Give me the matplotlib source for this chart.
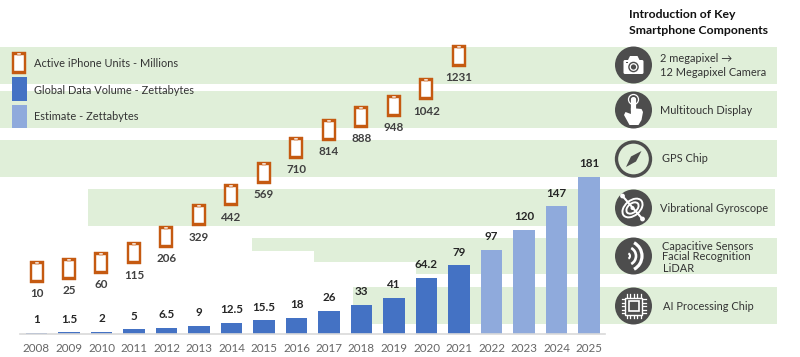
import numpy as np
import matplotlib
matplotlib.use('Agg')
import matplotlib.pyplot as plt
from matplotlib.path import Path
from matplotlib.patches import Rectangle, Circle, FancyBboxPatch, Polygon, Arc, Ellipse

plt.rcParams['font.family'] = ['Lato', 'DejaVu Sans']

### --- data --- ###
years = [2008, 2009, 2010, 2011, 2012, 2013, 2014, 2015, 2016, 2017, 2018, 2019, 2020, 2021, 2022, 2023, 2024, 2025]
data_labels = ['1', '1.5', '2', '5', '6.5', '9', '12.5', '15.5', '18', '26', '33', '41', '64.2', '79', '97', '120', '147', '181']
data_volume = [float(v) for v in data_labels]
is_estimate = [y >= 2022 for y in years]
iphone_units = [10, 25, 60, 115, 206, 329, 442, 569, 710, 814, 888, 948, 1042, 1231]

BLUE = '#4472C4'
LIGHT = '#8FAADC'
ORANGE = '#C55A11'
GREEN = '#E0EFD9'
DARK = '#4D4D4D'
TXT = '#333333'

W, H = 800, 357
fig = plt.figure(figsize=(W / 100, H / 100), dpi=100)

# overlay in pixel coords for the bands, legend and icons
bg = fig.add_axes([0, 0, 1, 1], zorder=0)
bg.set_xlim(0, W)
bg.set_ylim(H, 0)
bg.axis('off')

# (x0, y0, x1, y1)
bands = [(0, 47, 777, 83.5), (0, 91, 777, 128), (0, 140, 777, 177), (88, 189, 775, 226),
         (252, 238, 777, 250.5), (314, 250.5, 777, 262), (416, 262, 777, 274), (353, 287, 777, 324)]
for x0, y0, x1, y1 in bands:
    bg.add_patch(Rectangle((x0, y0), x1 - x0, y1 - y0, fc=GREEN, ec='none'))

### --- bars --- ###
left, right, base = 20.25, 605.25, 333.5
ax = fig.add_axes([left / W, (H - base) / H, (right - left) / W, base / H], zorder=2)
ax.patch.set_visible(False)
x = np.arange(len(years))
colors = [LIGHT if e else BLUE for e in is_estimate]
ax.bar(x, data_volume, width=0.66, color=colors)
ax.set_xlim(-0.5, 17.5)
ax.set_ylim(0, 385.5)
ax.set_xticks(x)
ax.set_xticklabels(years, fontsize=8.4, color='#666666')
ax.tick_params(axis='x', length=0, pad=7.2)
ax.set_yticks([])
for s in ['top', 'left', 'right']:
    ax.spines[s].set_visible(False)
ax.spines['bottom'].set_color('#D9D9D9')
ax.spines['bottom'].set_linewidth(1.2)
for xi, v, lab in zip(x, data_volume, data_labels):
    ax.annotate(lab, (xi, v), xytext=(0, 9.4), textcoords='offset points', ha='center', va='center',
                fontsize=8.4, fontweight='bold', color='#262626')

### --- iPhone units --- ###
def phone_path():
    # outer body with the inner screen and the speaker slot cut out
    def rect(x0, y0, x1, y1, ccw=True):
        pts = [(x0, y0), (x1, y0), (x1, y1), (x0, y1), (x0, y0)]
        return pts if ccw else pts[::-1]
    verts, codes = [], []
    for pts in [rect(-7.4, -10.8, 7.4, 10.8), rect(-4.8, -8.3, 4.8, 7.7, False), rect(-1.8, 8.5, 1.8, 9.9, False)]:
        verts += pts
        codes += [Path.MOVETO] + [Path.LINETO] * 3 + [Path.CLOSEPOLY]
    return Path(verts, codes)

PHONE = phone_path()
PHONE_S = (21.6 * 0.72) ** 2
BODY = Path([(-7.4, -10.8), (7.4, -10.8), (7.4, 10.8), (-7.4, 10.8), (-7.4, -10.8)])

ax2 = ax.twinx()
ax2.patch.set_visible(False)
ax2.set_ylim(-340.2, 1548)
ax2.set_yticks([])
for s in ax2.spines.values():
    s.set_visible(False)
ix = x[:len(iphone_units)]
ax2.scatter(ix, iphone_units, marker=BODY, s=PHONE_S, c='white', linewidths=0, clip_on=False)
ax2.scatter(ix, iphone_units, marker=PHONE, s=PHONE_S, c=ORANGE, linewidths=0.3, edgecolors=ORANGE, clip_on=False)
for xi, v in zip(ix, iphone_units):
    ax2.annotate(str(v), (xi, v), xytext=(0, -15.8), textcoords='offset points', ha='center', va='center',
                 fontsize=8.4, fontweight='bold', color='#404040')

### --- legend --- ###
bg.scatter([19], [63], marker=BODY, s=PHONE_S, c='white', linewidths=0)
bg.scatter([19], [63], marker=PHONE, s=PHONE_S, c=ORANGE, linewidths=0.3, edgecolors=ORANGE)
bg.add_patch(Rectangle((12, 77), 15, 24, fc=BLUE, ec='none'))
bg.add_patch(Rectangle((12, 105), 15, 23, fc=LIGHT, ec='none'))
for ty, s in zip([63.5, 90, 116.5], ['Active iPhone Units - Millions', 'Global Data Volume - Zettabytes', 'Estimate - Zettabytes']):
    bg.text(33.5, ty, s, fontsize=7.95, color=TXT, va='center')

### --- right hand column --- ###
bg.text(629, 15, 'Introduction of Key', fontsize=8.85, fontweight='bold', color='#111111', va='center')
bg.text(629, 31, 'Smartphone Components', fontsize=8.85, fontweight='bold', color='#111111', va='center')
comp_text = [(660, 58, '2 megapixel →'), (660, 72.5, '12 Megapixel Camera'), (660.5, 110.5, 'Multitouch Display'),
             (662.5, 159, 'GPS Chip'), (660, 208.5, 'Vibrational Gyroscope'), (662.5, 246, 'Capacitive Sensors'),
             (662.5, 257, 'Facial Recognition'), (662.5, 269, 'LiDAR'), (663, 306, 'AI Processing Chip')]
for tx, ty, s in comp_text:
    bg.text(tx, ty, s, fontsize=7.95, color=TXT, va='center')

CX = 633.5
R = 18.5

def disc(cy):
    bg.add_patch(Circle((CX, cy), R, fc=DARK, ec='none', zorder=3))

# camera
cy = 65
disc(cy)
bg.add_patch(Polygon([(CX - 5.5, cy - 5), (CX - 3.5, cy - 9), (CX + 4, cy - 9), (CX + 6, cy - 5)], fc='white', zorder=4))
bg.add_patch(FancyBboxPatch((CX - 10, cy - 5), 20, 14, boxstyle='round,pad=0,rounding_size=1.5', fc='white', ec='none', zorder=4))
bg.add_patch(Circle((CX, cy + 2), 4.6, fc='white', ec=DARK, lw=1, zorder=5))
bg.add_patch(Circle((CX, cy + 2), 2.6, fc=DARK, ec='none', zorder=5))
bg.add_patch(Rectangle((CX - 8, cy - 3.5), 2.5, 1.5, fc=DARK, ec='none', zorder=5))

# hand
cy = 110
disc(cy)
bg.add_patch(Circle((CX, cy - 10.5), 5, fc='none', ec='white', lw=0.9, zorder=4))
bg.add_patch(FancyBboxPatch((CX - 2.6, cy - 13), 5.2, 16, boxstyle='round,pad=0,rounding_size=2.4', fc='white', ec='none', zorder=4))
bg.add_patch(Polygon([(CX - 2.6, cy - 2), (CX + 8, cy - 1), (CX + 9.5, cy + 2), (CX + 8, cy + 10), (CX + 5, cy + 15),
                      (CX - 4, cy + 15), (CX - 9.5, cy + 5), (CX - 8, cy + 2), (CX - 2.6, cy + 4)], fc='white', zorder=4))

# compass
cy = 159
bg.add_patch(Circle((CX, cy), R - 1.5, fc='none', ec=DARK, lw=2.4, zorder=3))
bg.add_patch(Polygon([(CX + 8, cy - 8), (CX + 2.5, cy + 2.5), (CX - 7.5, cy + 8), (CX - 2.5, cy - 2.5)], fc=DARK, ec='none', zorder=4))

# gyroscope
cy = 208
disc(cy)
for w, h in [(23, 15), (14, 9)]:
    bg.add_patch(Ellipse((CX - 1, cy), w, h, angle=-40, fc='none', ec='white', lw=1.4, zorder=4))
bg.add_patch(Circle((CX - 1, cy), 2, fc='white', ec='none', zorder=4))
bg.plot([CX - 11, CX + 9], [cy - 12, cy + 11], color='white', lw=1.5, zorder=5)
bg.add_patch(Circle((CX - 11, cy - 12), 2.4, fc='white', ec='none', zorder=5))
bg.add_patch(Circle((CX + 9, cy + 11), 2.4, fc='white', ec='none', zorder=5))

# capacitive waves
cy = 256
disc(cy)
for r, lw in [(3, 1.5), (9, 1.9), (15, 2.3)]:
    bg.add_patch(Arc((CX - 6.5, cy), 2 * r, 2 * r, theta1=-62, theta2=62, color='white', lw=lw, zorder=4))

# chip
cy = 306
disc(cy)
bg.add_patch(Rectangle((CX - 8.5, cy - 8.5), 17, 17, fc='none', ec='white', lw=1, zorder=4))
bg.add_patch(Rectangle((CX - 5, cy - 5), 10, 10, fc='none', ec='white', lw=1.2, zorder=4))
for off in [-7, -3.5, 0, 3.5, 7]:
    bg.plot([CX + off, CX + off], [cy - 12, cy - 9.5], color='white', lw=0.9, zorder=4)
    bg.plot([CX + off, CX + off], [cy + 9.5, cy + 12], color='white', lw=0.9, zorder=4)
    bg.plot([CX - 12, CX - 9.5], [cy + off, cy + off], color='white', lw=0.9, zorder=4)
    bg.plot([CX + 9.5, CX + 12], [cy + off, cy + off], color='white', lw=0.9, zorder=4)

fig.savefig('out.png', dpi=100)
